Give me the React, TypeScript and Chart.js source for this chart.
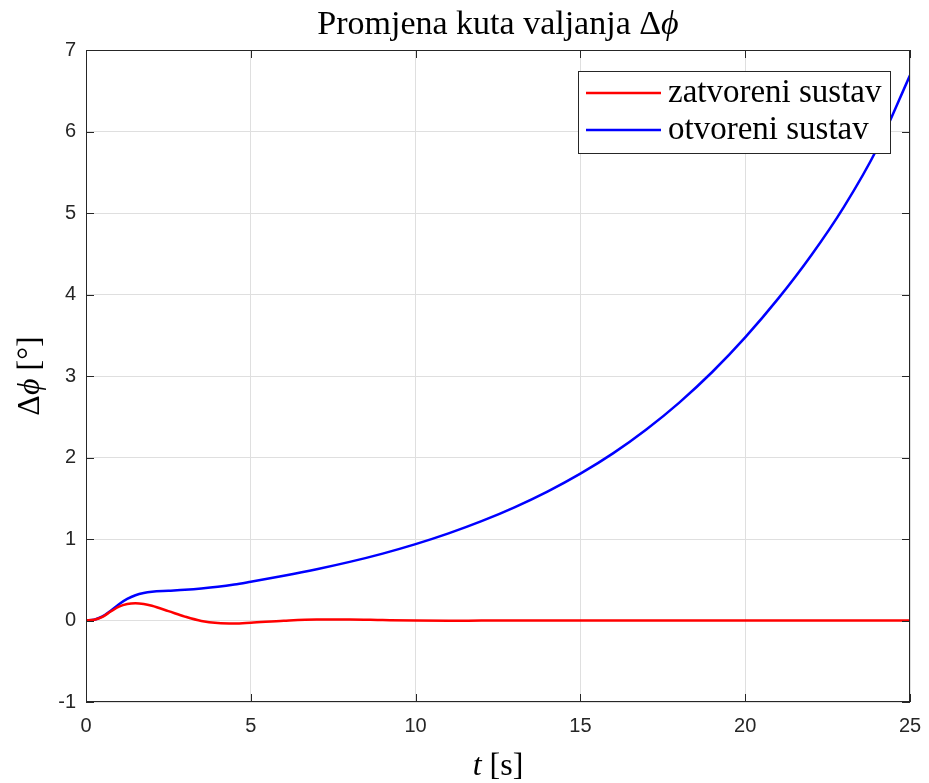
import React, { useEffect, useRef } from "react";
import { Chart, registerables } from "chart.js";

Chart.register(...registerables);

const timeSec = [0, 0.25, 0.5, 0.75, 1, 1.25, 1.5, 1.75, 2, 2.5, 3, 3.5, 4, 4.5, 5, 6, 7, 8, 9, 10, 11, 12, 13, 14, 15, 16, 17, 18, 19, 20, 21, 22, 23, 24, 25];
const closedLoop = [0, 0.01, 0.045, 0.11, 0.17, 0.203, 0.213, 0.203, 0.18, 0.115, 0.048, -0.006, -0.032, -0.037, -0.027, -0.002, 0.013, 0.012, 0.005, -0.001, -0.003, -0.001, 0, 0, 0, 0, 0, 0, 0, 0, 0, 0, 0, 0, 0];
const openLoop = [0, 0.01, 0.05, 0.12, 0.2, 0.265, 0.31, 0.337, 0.352, 0.364, 0.376, 0.392, 0.413, 0.441, 0.476, 0.549, 0.629, 0.719, 0.821, 0.937, 1.069, 1.219, 1.389, 1.582, 1.802, 2.054, 2.344, 2.674, 3.049, 3.474, 3.949, 4.479, 5.079, 5.789, 6.689];
const seriesLabels = ["zatvoreni sustav", "otvoreni sustav"];
const seriesColors = ["#ff0000", "#0000ff"];
const xTickValues = [0, 5, 10, 15, 20, 25];
const yTickValues = [-1, 0, 1, 2, 3, 4, 5, 6, 7];
const titleText = "Promjena kuta valjanja Δ";
const titleSymbol = "ϕ";
const xTitleVar = "t";
const xTitleUnit = " [s]";
const yTitleVar = "Δ";
const yTitleSym = "ϕ";
const yTitleUnit = " [°]";

const SERIF = "'Liberation Serif', 'DejaVu Serif', serif";
const SANS = "'Liberation Sans', Arial, sans-serif";

function drawMixed(ctx: CanvasRenderingContext2D, parts: { t: string; f: string }[], cx: number, y: number) {
  let total = 0;
  const widths = parts.map((p) => {
    ctx.font = p.f;
    const w = ctx.measureText(p.t).width;
    total += w;
    return w;
  });
  let x = cx - total / 2;
  ctx.textAlign = "left";
  parts.forEach((p, i) => {
    ctx.font = p.f;
    ctx.fillText(p.t, x, y);
    x += widths[i];
  });
}

const decorPlugin = {
  id: "matlabDecor",
  afterDraw(chart: any) {
    const ctx: CanvasRenderingContext2D = chart.ctx;
    const { left, right, top, bottom } = chart.chartArea;
    const xs = chart.scales.x;
    const ys = chart.scales.y;
    ctx.save();
    // frame
    ctx.strokeStyle = "#262626";
    ctx.lineWidth = 1;
    ctx.strokeRect(left + 0.5, top + 0.5, right - left - 1, bottom - top - 1);
    // inward ticks
    const tl = 8;
    ctx.beginPath();
    xTickValues.forEach((v) => {
      const px = Math.round(xs.getPixelForValue(v)) + 0.5;
      ctx.moveTo(px, bottom);
      ctx.lineTo(px, bottom - tl);
      ctx.moveTo(px, top);
      ctx.lineTo(px, top + tl);
    });
    yTickValues.forEach((v) => {
      const py = Math.round(ys.getPixelForValue(v)) + 0.5;
      ctx.moveTo(left, py);
      ctx.lineTo(left + tl, py);
      ctx.moveTo(right, py);
      ctx.lineTo(right - tl, py);
    });
    ctx.stroke();

    // legend
    const bw = 312;
    const bh = 82;
    const bx = right - 20 - bw;
    const by = top + 21;
    ctx.fillStyle = "#ffffff";
    ctx.fillRect(bx, by, bw, bh);
    ctx.strokeStyle = "#262626";
    ctx.lineWidth = 1;
    ctx.strokeRect(bx + 0.5, by + 0.5, bw, bh);
    chart.data.datasets.forEach((ds: any, i: number) => {
      const ry = by + 22 + i * 37;
      ctx.strokeStyle = ds.borderColor;
      ctx.lineWidth = 2.5;
      ctx.beginPath();
      ctx.moveTo(bx + 8, ry);
      ctx.lineTo(bx + 83, ry);
      ctx.stroke();
      ctx.fillStyle = "#000000";
      ctx.font = `33px ${SERIF}`;
      ctx.textAlign = "left";
      ctx.textBaseline = "alphabetic";
      ctx.fillText(ds.label, bx + 90, ry + 9);
    });

    // title
    ctx.fillStyle = "#000000";
    ctx.textBaseline = "alphabetic";
    const cx = (left + right) / 2;
    drawMixed(ctx, [
      { t: titleText, f: `34px ${SERIF}` },
      { t: titleSymbol, f: `italic 34px ${SERIF}` },
    ], cx, 34);

    // x title
    drawMixed(ctx, [
      { t: xTitleVar, f: `italic 32px ${SERIF}` },
      { t: xTitleUnit, f: `32px ${SERIF}` },
    ], cx, 775);

    // y title
    ctx.save();
    ctx.translate(39, (top + bottom) / 2);
    ctx.rotate(-Math.PI / 2);
    drawMixed(ctx, [
      { t: yTitleVar, f: `32px ${SERIF}` },
      { t: yTitleSym, f: `italic 32px ${SERIF}` },
      { t: yTitleUnit, f: `32px ${SERIF}` },
    ], 0, 0);
    ctx.restore();

    ctx.restore();
  },
};

export default function App() {
  const ref = useRef<HTMLCanvasElement | null>(null);
  useEffect(() => {
    if (!ref.current) return;
    const chart = new Chart(ref.current, {
      type: "line",
      data: {
        datasets: [closedLoop, openLoop].map((vals, i) => ({
          label: seriesLabels[i],
          data: timeSec.map((t, k) => ({ x: t, y: vals[k] })),
          borderColor: seriesColors[i],
          backgroundColor: seriesColors[i],
          borderWidth: 2.5,
          pointRadius: 0,
          cubicInterpolationMode: "monotone" as const,
          fill: false,
        })),
      },
      options: {
        animation: false,
        responsive: false,
        maintainAspectRatio: false,
        layout: { padding: { left: 0, right: 19, top: 50, bottom: 0 } },
        plugins: {
          legend: { display: false },
          title: { display: false },
          tooltip: { enabled: false },
        },
        scales: {
          x: {
            type: "linear",
            min: 0,
            max: 25,
            afterFit: (s: any) => {
              s.height = 81;
              s.paddingLeft = 0;
              s.paddingRight = 0;
            },
            afterBuildTicks: (s: any) => {
              s.ticks = xTickValues.map((v) => ({ value: v }));
            },
            grid: { color: "#dfdfdf", drawTicks: false, lineWidth: 1 },
            border: { display: false },
            ticks: {
              padding: 12,
              color: "#262626",
              font: { family: SANS, size: 20 },
              maxRotation: 0,
              callback: (v: any) => String(v),
            },
          },
          y: {
            type: "linear",
            min: -1,
            max: 7,
            afterFit: (s: any) => {
              s.width = 86;
              s.paddingTop = 0;
              s.paddingBottom = 0;
            },
            afterBuildTicks: (s: any) => {
              s.ticks = yTickValues.map((v) => ({ value: v }));
            },
            grid: { color: "#dfdfdf", drawTicks: false, lineWidth: 1 },
            border: { display: false },
            ticks: {
              padding: 10,
              color: "#262626",
              font: { family: SANS, size: 20 },
              callback: (v: any) => String(v),
            },
          },
        },
      },
      plugins: [decorPlugin],
    });
    return () => chart.destroy();
  }, []);
  return (
    <div style={{ position: "fixed", left: 0, top: 0, width: 929, height: 783, background: "#ffffff" }}>
      <canvas ref={ref} width={929} height={783} style={{ width: 929, height: 783, display: "block" }} />
    </div>
  );
}
